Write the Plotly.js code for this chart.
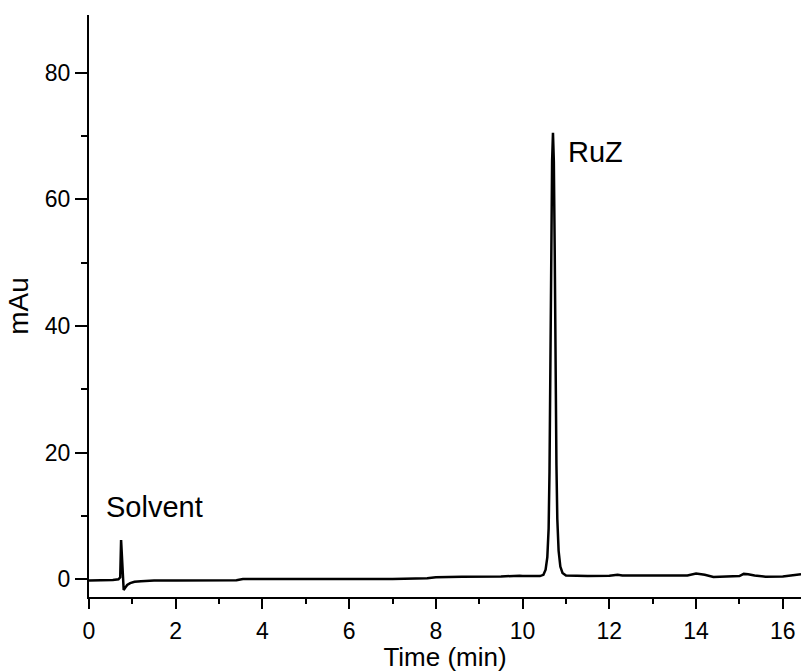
<!DOCTYPE html>
<html>
<head>
<meta charset="utf-8">
<script src="https://cdn.plot.ly/plotly-3.0.1.min.js"></script>
<style>
  html, body { margin: 0; padding: 0; background: #fff; }
  #chart { width: 801px; height: 672px; }
</style>
</head>
<body>
<div id="chart"></div>
<script>
// Chromatogram: retention time (min) vs absorbance (mAu)
const timeMin = [
  0.00, 0.30, 0.55, 0.68, 0.72, 0.74, 0.76, 0.78, 0.80, 0.83, 0.88, 0.95, 1.05, 1.20, 1.50,
  2.00, 3.00, 3.40, 3.55, 4.00, 5.00, 6.00, 7.00, 7.80, 8.00, 8.60, 9.00, 9.50, 9.93, 10.00, 10.30,
  10.40, 10.48, 10.53, 10.57, 10.60, 10.62, 10.64, 10.66, 10.68, 10.70, 10.72, 10.74, 10.76,
  10.78, 10.80, 10.83, 10.87, 10.92, 11.00,
  11.50, 12.00, 12.19, 12.30, 13.00, 13.80, 14.00, 14.20, 14.40, 15.00, 15.10, 15.20, 15.35,
  15.60, 16.00, 16.30, 16.42
];
const mAu = [
  -0.2, -0.2, -0.1, 0.0, 0.3, 6.2, 3.0, -0.5, -1.7, -1.4, -0.9, -0.6, -0.4, -0.3, -0.2,
  -0.2, -0.15, -0.15, 0.05, 0.05, 0.0, 0.0, 0.05, 0.15, 0.3, 0.4, 0.4, 0.45, 0.55, 0.5, 0.5,
  0.5, 0.7, 1.5, 3.5, 8.0, 17.0, 34.0, 55.0, 66.0, 70.5, 66.0, 52.0, 32.0,
  18.0, 9.5, 4.5, 2.0, 1.0, 0.6,
  0.5, 0.55, 0.7, 0.6, 0.6, 0.6, 0.9, 0.7, 0.35, 0.5, 0.85, 0.8, 0.6,
  0.4, 0.45, 0.7, 0.8
];
const peakLabels = ["Solvent", "RuZ"];
const peakLabelX = [1.50, 11.69];
const peakLabelY = [11.4, 67.4];

const trace = {
  x: timeMin,
  y: mAu,
  type: "scatter",
  mode: "lines",
  line: { color: "#000000", width: 2.5 },
  hoverinfo: "skip"
};

const annotations = peakLabels.map((txt, i) => ({
  x: peakLabelX[i], y: peakLabelY[i], xref: "x", yref: "y",
  text: txt, showarrow: false,
  font: { family: "Liberation Sans, Arial, sans-serif", size: 29, color: "#000" },
  xanchor: "center", yanchor: "middle"
}));

const layout = {
  width: 801, height: 672,
  margin: { l: 89, r: 0, t: 15, b: 75, pad: 0 },
  paper_bgcolor: "#fff", plot_bgcolor: "#fff",
  showlegend: false,
  font: { family: "Liberation Sans, Arial, sans-serif", color: "#000" },
  xaxis: {
    range: [0, 16.42],
    dtick: 2, tick0: 0,
    ticks: "outside", ticklen: 10, tickwidth: 2, tickcolor: "#000",
    minor: { dtick: 1, ticks: "outside", ticklen: 5, tickwidth: 2, tickcolor: "#000", showgrid: false },
    showline: true, linecolor: "#000", linewidth: 2,
    showgrid: false, zeroline: false,
    tickfont: { size: 23, color: "#000" },
    ticklabelstandoff: 2,
    title: { text: "Time (min)", font: { size: 26, color: "#000" }, standoff: 4 }
  },
  yaxis: {
    range: [-2.8, 89.1],
    dtick: 20, tick0: 0,
    ticks: "outside", ticklen: 12, tickwidth: 2, tickcolor: "#000",
    minor: { dtick: 10, ticks: "outside", ticklen: 6, tickwidth: 2, tickcolor: "#000", showgrid: false },
    showline: true, linecolor: "#000", linewidth: 2,
    showgrid: false, zeroline: false,
    tickfont: { size: 23, color: "#000" },
    title: { text: "mAu", font: { size: 28, color: "#000" }, standoff: 8 }
  },
  annotations: annotations
};

Plotly.newPlot("chart", [trace], layout, { displayModeBar: false, staticPlot: true });
</script>
</body>
</html>
